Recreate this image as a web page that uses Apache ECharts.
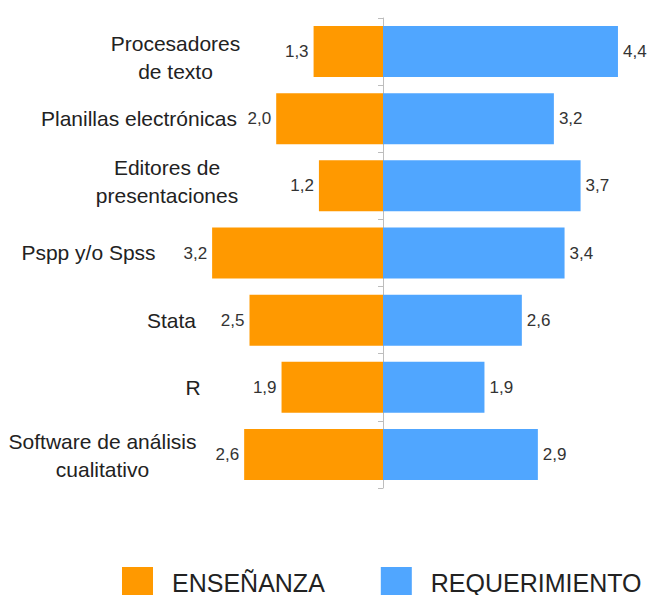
<!DOCTYPE html>
<html>
<head>
<meta charset="utf-8">
<script src="https://cdn.jsdelivr.net/npm/echarts@6/dist/echarts.min.js"></script>
<style>
html,body{margin:0;padding:0;background:#fff;}
#chart{width:662px;height:595px;}
</style>
</head>
<body>
<div id="chart"></div>
<script>
const categories = [
  'Procesadores\nde texto',
  'Planillas electrónicas',
  'Editores de\npresentaciones',
  'Pspp y/o Spss',
  'Stata',
  'R',
  'Software de análisis\ncualitativo'
];
const ensenanza = [1.3, 2.0, 1.2, 3.2, 2.5, 1.9, 2.6];
const requerimiento = [4.4, 3.2, 3.7, 3.4, 2.6, 1.9, 2.9];
const seriesNames = ['ENSEÑANZA', 'REQUERIMIENTO'];

// per-label layout: box width (label centred in a box right-aligned at the anchor) and vertical padding [top, bottom]
const labelBoxWidths = [149, 222, 166, 323, 157, 114, 295];
const labelPadV = [[12, 0], [0, 0], [0, 8], [0, 2], [0, 0], [0, 0], [2, 0]];

const rich = {};
labelBoxWidths.forEach((w, i) => {
  rich['c' + i] = {
    width: w, align: 'center', fontSize: 21, lineHeight: 28, color: '#222',
    fontFamily: 'Liberation Sans',
    padding: [labelPadV[i][0], 0, labelPadV[i][1], 0]
  };
});

const fmt = v => Math.abs(v).toFixed(1).replace('.', ',');

const chart = echarts.init(document.getElementById('chart'), null, { renderer: 'svg' });
chart.setOption({
  animation: false,
  textStyle: { fontFamily: 'Liberation Sans' },
  legend: {
    left: 122,
    top: 567,
    padding: 0,
    itemWidth: 31,
    itemHeight: 31,
    itemGap: 56,
    icon: 'rect',
    textStyle: { fontSize: 25, color: '#222', padding: [0, 0, 0, 14] },
    data: seriesNames
  },
  grid: { left: 116, right: 12, top: 18, bottom: 107, containLabel: false, outerBoundsMode: 'none' },
  xAxis: {
    type: 'value',
    min: -5,
    max: 5,
    show: false
  },
  yAxis: {
    type: 'category',
    inverse: true,
    data: categories,
    axisLine: { show: true, onZero: true, lineStyle: { color: '#bdbdbd', width: 1 } },
    axisTick: { show: true, length: 5, lineStyle: { color: '#bdbdbd' } },
    axisLabel: {
      margin: -134,
      align: 'right',
      formatter: (v, i) => '{c' + i + '|' + v + '}',
      rich: rich
    },
    splitLine: { show: false }
  },
  series: [
    {
      name: seriesNames[0],
      type: 'bar',
      data: ensenanza.map(v => -v),
      barGap: '-100%',
      barCategoryGap: '24%',
      itemStyle: { color: '#ff9900' },
      label: { show: true, position: 'left', distance: 5, fontSize: 17, color: '#333', formatter: p => fmt(p.value) }
    },
    {
      name: seriesNames[1],
      type: 'bar',
      data: requerimiento,
      barGap: '-100%',
      barCategoryGap: '24%',
      itemStyle: { color: '#50a6ff' },
      label: { show: true, position: 'right', distance: 5, fontSize: 17, color: '#333', formatter: p => fmt(p.value) }
    }
  ]
});
</script>
</body>
</html>
